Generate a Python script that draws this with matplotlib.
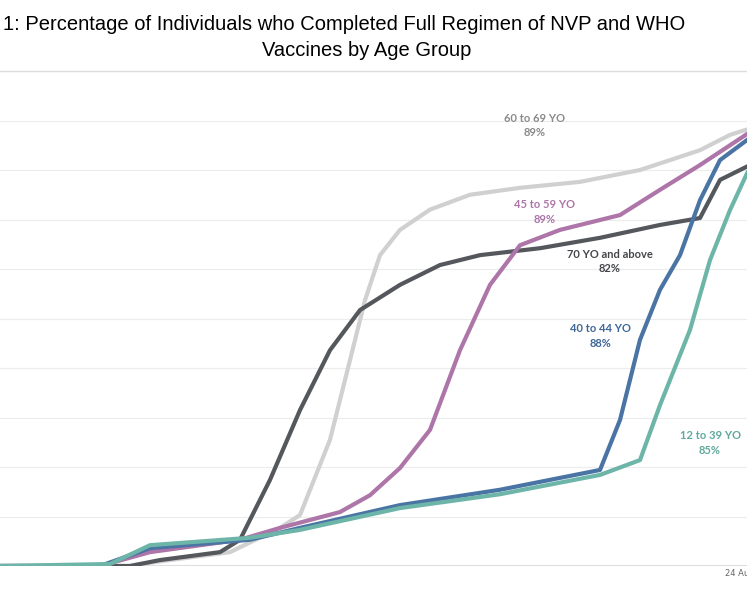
import numpy as np
import matplotlib.pyplot as plt

# day index (horizontal position along the timeline) vs percent fully vaccinated
g6069_x = [0, 130, 140, 230, 280, 300, 330, 350, 365, 380, 400, 430, 470, 520, 580, 640, 700, 730, 760]
g6069_y = [0, 0, 0.4, 2.8, 7.7, 10.3, 25.5, 41.6, 53.7, 62.8, 67.9, 72.0, 75.0, 76.4, 77.6, 80.0, 84.0, 87.1, 89.0]

g70_x = [0, 130, 160, 220, 240, 270, 300, 330, 360, 400, 440, 480, 540, 600, 660, 700, 720, 760]
g70_y = [0, 0, 1.2, 2.8, 5.3, 17.4, 31.5, 43.6, 51.7, 56.8, 60.8, 62.8, 64.2, 66.3, 68.9, 70.3, 78.0, 82.0]

g4559_x = [0, 100, 150, 240, 280, 340, 370, 400, 430, 460, 490, 520, 560, 620, 660, 700, 760]
g4559_y = [0, 0, 2.8, 5.3, 7.7, 10.9, 14.3, 19.8, 27.5, 43.6, 56.8, 64.8, 67.9, 70.9, 76.0, 81.0, 89.0]

g4044_x = [0, 100, 150, 250, 300, 400, 500, 560, 600, 620, 640, 660, 680, 700, 720, 760]
g4044_y = [0, 0, 3.6, 5.3, 7.7, 12.3, 15.4, 17.8, 19.4, 29.5, 45.7, 55.8, 62.8, 73.9, 82.0, 88.0]

g1239_x = [0, 110, 150, 250, 300, 400, 500, 600, 640, 660, 690, 710, 730, 760]
g1239_y = [0, 0.4, 4.2, 5.7, 7.3, 11.7, 14.5, 18.4, 21.4, 32.5, 47.7, 61.8, 71.9, 85.0]

series = [
    (g6069_x, g6069_y, '#d0d0d0', '60 to 69 YO\n89%', 535, 89.0, '#8a8a8a'),
    (g70_x, g70_y, '#54575c', '70 YO and above\n82%', 610, 61.5, '#44464a'),
    (g4559_x, g4559_y, '#ad75a8', '45 to 59 YO\n89%', 545, 71.5, '#ad75a8'),
    (g4044_x, g4044_y, '#4a74a4', '40 to 44 YO\n88%', 600, 46.5, '#3f6796'),
    (g1239_x, g1239_y, '#6db5a8', '12 to 39 YO\n85%', 710, 24.8, '#5fa89b'),
]

fig = plt.figure(figsize=(7.47, 5.98), dpi=100)
ax = fig.add_axes([0, (598 - 566) / 598, 1, 495 / 598])
ax.set_xlim(0, 747)
ax.set_ylim(0, 100)

for yv in range(10, 101, 10):
    ax.axhline(yv, color='#ececec', lw=0.8, zorder=0)
ax.axhline(0, color='#dddddd', lw=1.5, zorder=0)

for xs, ys, col, lab, lx, ly, tcol in series:
    ax.plot(xs, ys, color=col, lw=3, solid_capstyle='round', solid_joinstyle='round', zorder=2)
    ax.text(lx, ly, lab, color=tcol, ha='center', va='center', fontsize=8,
            family='Lato', fontweight='bold', linespacing=1.4, zorder=3)

for s in ax.spines.values():
    s.set_visible(False)
ax.set_xticks([])
ax.set_yticks([])

fig.text(725 / 747, 1 - 574 / 598, '24 Aug', fontsize=6, color='#666666', va='center')
fig.text(0.004, 1 - 24 / 598, '1: Percentage of Individuals who Completed Full Regimen of NVP and WHO',
         fontsize=14.5, family='Liberation Sans', va='center', ha='left')
fig.text(367 / 747, 1 - 50 / 598, 'Vaccines by Age Group', fontsize=14.5,
         family='Liberation Sans', va='center', ha='center')
fig.add_artist(plt.Line2D([0, 1], [1 - 71 / 598] * 2, color='#dddddd', lw=1))

fig.savefig('out.png', dpi=100)
